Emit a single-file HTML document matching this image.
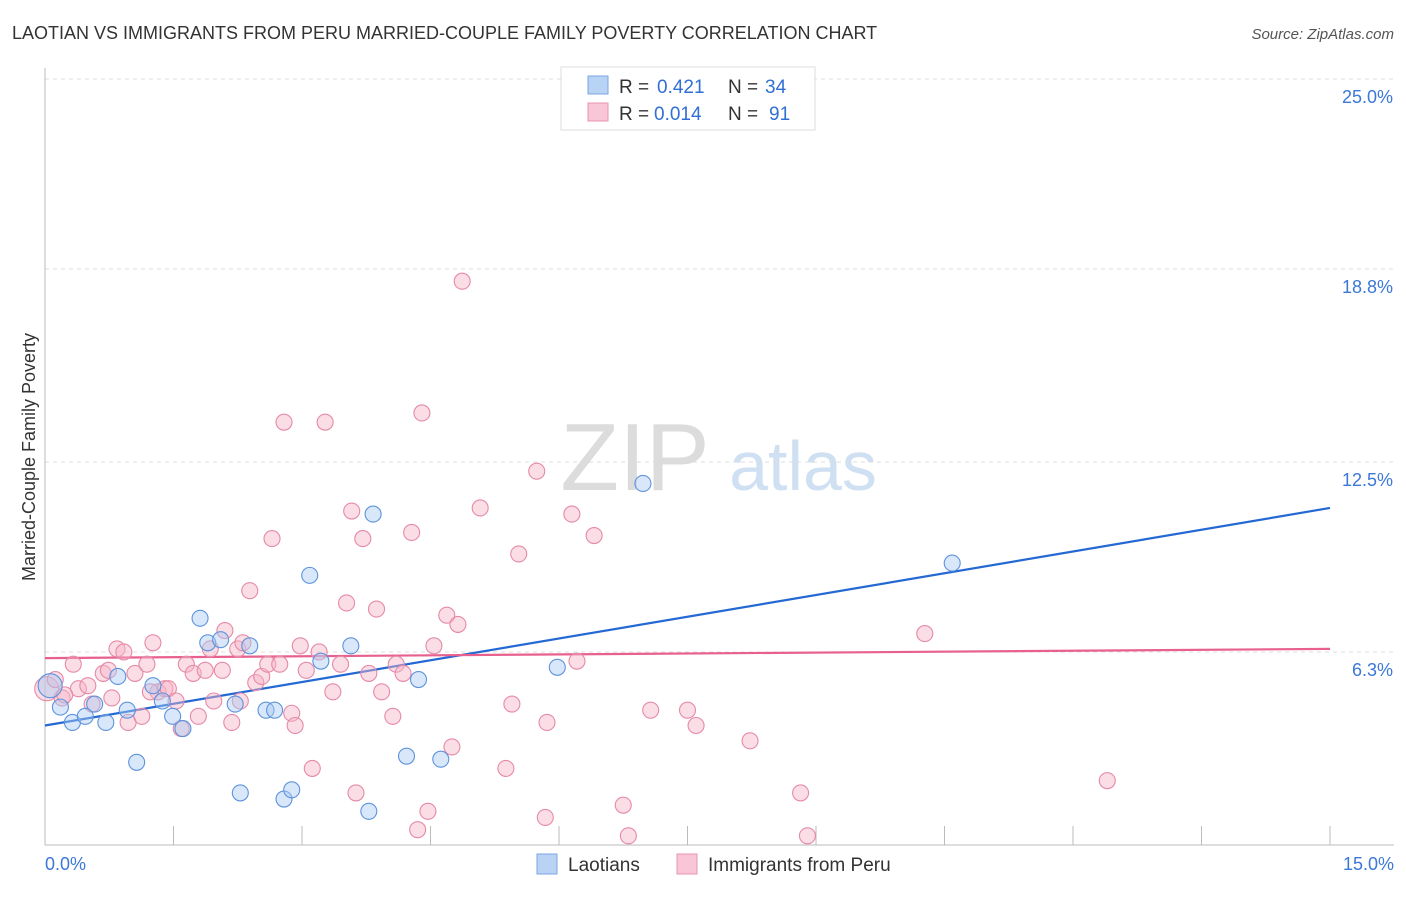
<!DOCTYPE html>
<html><head><meta charset="utf-8"><style>
body{margin:0;background:#fff;font-family:"Liberation Sans",sans-serif}
svg text{font-family:"Liberation Sans",sans-serif}
</style></head><body>
<svg id="chart" width="1406" height="892" viewBox="0 0 1406 892">
<text x="12" y="39" font-size="18" fill="#333">LAOTIAN VS IMMIGRANTS FROM PERU MARRIED-COUPLE FAMILY POVERTY CORRELATION CHART</text>
<text x="1394" y="39" font-size="15" fill="#555" font-style="italic" text-anchor="end">Source: ZipAtlas.com</text>
<g>
<text x="635" y="490" font-size="96" fill="#dcdcdc" font-family="Liberation Serif,serif" text-anchor="middle">ZIP</text>
<text x="803" y="490" font-size="70" fill="#cfe0f3" text-anchor="middle">atlas</text>
</g>
<text transform="translate(35,457) rotate(-90)" font-size="18" fill="#333" text-anchor="middle">Married-Couple Family Poverty</text>
<g id="grid"></g><g id="axes"></g><g id="trends"></g><g id="points"></g>
<g>
<rect x="561" y="67" width="254" height="63" fill="#fff" stroke="#ddd"/>
<rect x="588" y="76" width="20" height="18" fill="#b8d3f3" stroke="#7aa6e0"/>
<text x="619" y="93" font-size="19" fill="#333">R =</text>
<text x="657" y="93" font-size="19" fill="#2f6fd6">0.421</text>
<text x="728" y="93" font-size="19" fill="#333">N =</text>
<text x="765" y="93" font-size="19" fill="#2f6fd6">34</text>
<rect x="588" y="103" width="20" height="18" fill="#f8c6d6" stroke="#e895b0"/>
<text x="619" y="120" font-size="19" fill="#333">R =</text>
<text x="654" y="120" font-size="19" fill="#2f6fd6">0.014</text>
<text x="728" y="120" font-size="19" fill="#333">N =</text>
<text x="769" y="120" font-size="19" fill="#2f6fd6">91</text>
</g>
<g>
<rect x="537" y="854" width="20" height="20" fill="#b8d3f3" stroke="#7aa6e0"/>
<text x="568" y="871" font-size="19" fill="#333">Laotians</text>
<rect x="677" y="854" width="20" height="20" fill="#f8c6d6" stroke="#e895b0"/>
<text x="708" y="871" font-size="19" fill="#333">Immigrants from Peru</text>
</g>
</svg>
<script>
const xTicks=[0,1.5,3,4.5,6,7.5,9,10.5,12,13.5,15];
const yTicks=[6.3,12.5,18.8,25.0];
const yTickLabels=["6.3%","12.5%","18.8%","25.0%"];
const blueX=[0.06,0.18,0.32,0.47,0.58,0.71,0.85,0.96,1.07,1.26,1.37,1.49,1.61,1.81,1.90,2.05,2.22,2.28,2.39,2.58,2.68,2.79,2.88,3.09,3.22,3.57,3.78,3.83,4.22,4.36,4.62,5.98,6.98,10.59];
const blueY=[5.2,4.5,4.0,4.2,4.6,4.0,5.5,4.4,2.7,5.2,4.7,4.2,3.8,7.4,6.6,6.7,4.6,1.7,6.5,4.4,4.4,1.5,1.8,8.8,6.0,6.5,1.1,10.8,2.9,5.4,2.8,5.8,11.8,9.2];
const pinkX=[0.02,0.12,0.2,0.33,0.39,0.5,0.55,0.68,0.74,0.78,0.84,0.92,0.97,1.05,1.13,1.19,1.26,1.32,1.4,1.44,1.53,1.59,1.65,1.73,1.79,1.87,1.93,1.97,2.07,2.1,2.18,2.25,2.31,2.39,2.46,2.53,2.6,2.65,2.74,2.79,2.88,2.92,2.98,3.05,3.12,3.2,3.27,3.36,3.45,3.52,3.58,3.63,3.71,3.78,3.87,3.93,4.06,4.1,4.18,4.28,4.35,4.4,4.47,4.54,4.69,4.75,4.82,4.87,5.08,5.38,5.45,5.53,5.74,5.84,5.86,6.15,6.21,6.41,6.75,6.81,7.07,7.5,7.6,8.23,8.82,8.9,10.27,12.4,0.23,1.23,2.28];
const pinkY=[5.1,5.4,4.8,5.9,5.1,5.2,4.6,5.6,5.7,4.8,6.4,6.3,4.0,5.6,4.2,5.9,6.6,5.0,5.1,5.1,4.7,3.8,5.9,5.6,4.2,5.7,6.4,4.7,5.7,7.0,4.0,6.4,6.6,8.3,5.3,5.5,5.9,10.0,5.9,13.8,4.3,3.9,6.5,5.7,2.5,6.3,13.8,5.0,5.9,7.9,10.9,1.7,10.0,5.6,7.7,5.0,4.2,5.9,5.6,10.2,0.5,14.1,1.1,6.5,7.5,3.2,7.2,18.4,11.0,2.5,4.6,9.5,12.2,0.9,4.0,10.8,6.0,10.1,1.3,0.3,4.4,4.4,3.9,3.4,1.7,0.3,6.9,2.1,4.9,5.0,4.7];
const blueTrend=[3.9,11.0];
const pinkTrend=[6.1,6.4];
const xMin=0,xMax=15,yMax=25;
const X=v=>45+(v-xMin)/(xMax-xMin)*1285;
const Y=v=>845-v*30.64;
const NS="http://www.w3.org/2000/svg";
function mk(tag,attrs,parent){const e=document.createElementNS(NS,tag);for(const k in attrs)e.setAttribute(k,attrs[k]);parent.appendChild(e);return e;}
const grid=document.getElementById('grid'),axes=document.getElementById('axes'),trends=document.getElementById('trends'),pts=document.getElementById('points');
yTicks.forEach((t,i)=>{
 const l=mk('line',{x1:45,x2:1394,y1:Y(t),y2:Y(t),stroke:'#ddd','stroke-dasharray':'4,4'},grid);
 
 
 const tx=mk('text',{x:1393,y:Y(t)+24,'font-size':18,fill:'#3b78d8','text-anchor':'end'},axes);
 tx.textContent=yTickLabels[i];
 
 
});
const ax=mk('line',{x1:45,x2:1394,y1:845,y2:845,stroke:'#bbb'},axes);


const ay=mk('line',{x1:45,x2:45,y1:68,y2:845,stroke:'#bbb'},axes);


xTicks.forEach(t=>{
 const l=mk('line',{x1:X(t),x2:X(t),y1:826,y2:845,stroke:'#bbb'},axes);
 
 
});
[[0,'0.0%','start',45],[15,'15.0%','end',1394]].forEach(a=>{
 const tx=mk('text',{x:a[3],y:870,'font-size':18,fill:'#3b78d8','text-anchor':a[2]},axes);
 tx.textContent=a[1];
 
 
});
function dots(xs,ys,fill,stroke,name){xs.forEach((x,i)=>{
 const c=mk('circle',{cx:X(x),cy:Y(ys[i]),r:(i===0?12:8),fill:fill,'fill-opacity':0.45,stroke:stroke,'stroke-width':1.1},pts);
 
 
});}
dots(pinkX,pinkY,'#f6b3c8','#e58aa8','peru-point');
dots(blueX,blueY,'#a9c9f1','#5e93dc','laotian-point');
const bt=mk('line',{x1:X(0),y1:Y(blueTrend[0]),x2:X(15),y2:Y(blueTrend[1]),stroke:'#2468d4','stroke-width':2.2},trends);


const pt=mk('line',{x1:X(0),y1:Y(pinkTrend[0]),x2:X(15),y2:Y(pinkTrend[1]),stroke:'#e8608e','stroke-width':2.2},trends);


</script>
</body></html>
